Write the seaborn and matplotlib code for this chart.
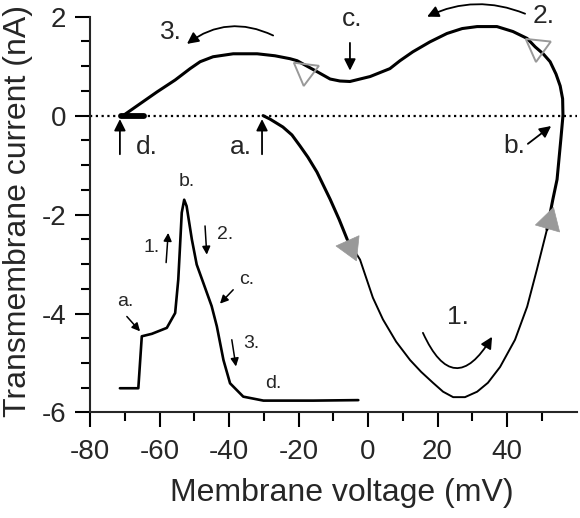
import numpy as np
import pandas as pd
import matplotlib
matplotlib.use("Agg")
import matplotlib.pyplot as plt
import seaborn as sns

# ---------------- data ----------------
# main I-V loop (membrane voltage mV, transmembrane current nA), in traversal order from a.
loop_v = [-30.2, -28.2, -24.5, -21.9, -19.6, -17.3, -14.7, -12.7, -10.9, -8.3, -6.0,
          -2.3, 1.4, 4.3, 8.1, 12.1, 15.3, 18.7, 21.6, 24.5, 27.9, 31.4, 34.5, 38.0,
          42.3, 45.8, 48.6, 51.5,
          53.2, 54.4, 55.5, 56.1, 56.0, 55.3, 54.1, 52.4, 50.4, 48.1, 45.8, 41.7,
          37.1, 31.4, 27.1, 22.7, 17.8, 12.9, 9.2, 6.3, 0.6, -5.2, -8.1, -10.9,
          -14.7, -20.4, -22.4, -26.8, -31.9, -38.8, -44.6, -48.3, -51.2, -55.5,
          -60.7, -65.6, -70.5]
loop_i = [0.0, -0.07, -0.23, -0.39, -0.61, -0.84, -1.14, -1.43, -1.69, -2.10, -2.50,
          -2.91, -3.68, -4.12, -4.57, -4.94, -5.18, -5.40, -5.58, -5.69, -5.69, -5.58,
          -5.40, -5.08, -4.53, -3.86, -3.11, -2.30,
          -1.69, -1.29, -0.47, 0.0, 0.34, 0.60, 0.84, 1.09, 1.25, 1.39, 1.56, 1.70,
          1.80, 1.80, 1.76, 1.66, 1.49, 1.29, 1.11, 0.95, 0.79, 0.69, 0.70, 0.74,
          0.89, 1.11, 1.15, 1.21, 1.25, 1.25, 1.19, 1.09, 0.95, 0.72, 0.48, 0.24, 0.0]
split_a, split_b = 10, 27          # thick / thin / thick parts of the trace

rest_v = [-71.2, -64.5]            # resting point d. (thick blob on zero line)
rest_i = [0.0, 0.0]

# inset: action potential trace drawn in the same axes
ap_v = [-71.4, -66.1, -65.1, -62.2, -57.9, -55.5, -54.6, -54.1, -53.6, -52.9, -52.2,
        -50.7, -49.3, -47.4, -45.0, -43.5, -41.6, -39.7, -35.9, -30.1, -15.7, -2.8]
ap_i = [-5.51, -5.51, -4.46, -4.41, -4.29, -3.99, -3.31, -2.64, -1.96, -1.70, -1.83,
        -2.50, -3.01, -3.38, -3.85, -4.26, -4.94, -5.41, -5.68, -5.76, -5.76, -5.75]

# direction triangles
filled_tri_v = [-5.2, 52.0]
filled_tri_i = [-2.65, -2.13]
filled_tri_rot = [-36, -16]
open_tri_v = [-18.0, 48.7]
open_tri_i = [0.91, 1.38]
open_tri_rot = [-67, -66]

x_ticks = [-80, -60, -40, -20, 0, 20, 40]
y_ticks = [-6, -4, -2, 0, 2]

# ---------------- style ----------------
sns.set_style("ticks")
plt.rcParams['font.family'] = ['Liberation Sans', 'DejaVu Sans']
plt.rcParams['axes.unicode_minus'] = False

fig = plt.figure(figsize=(5.8, 5.18), dpi=100)
ax = fig.add_axes([0.1552, 0.2037, 0.8388, 0.7641])

df_loop = pd.DataFrame({"v": loop_v, "i": loop_i, "n": range(len(loop_v))})
parts = [(df_loop.iloc[:split_a + 1], 2.2), (df_loop.iloc[split_a:split_b + 1], 1.4),
         (df_loop.iloc[split_b:], 2.2)]
for part, lw in parts:
    sns.lineplot(data=part, x="v", y="i", sort=False, estimator=None, color="black",
                 lw=lw, ax=ax, solid_joinstyle="round", solid_capstyle="round")

sns.lineplot(x=rest_v, y=rest_i, sort=False, estimator=None, color="black", lw=4.2,
             solid_capstyle="round", ax=ax)
sns.lineplot(x=ap_v, y=ap_i, sort=False, estimator=None, color="black", lw=1.9,
             solid_joinstyle="round", ax=ax)

ax.axhline(0, color="black", lw=1.6, ls=(0, (1, 1.6)), zorder=1)

grey = "#999999"
for v, i, r in zip(filled_tri_v, filled_tri_i, filled_tri_rot):
    ax.plot([v], [i], marker=(3, 0, r), ms=21, color=grey, mec=grey, mew=0.5,
            ls="none", zorder=5)
for v, i, r in zip(open_tri_v, open_tri_i, open_tri_rot):
    ax.plot([v], [i], marker=(3, 0, r), ms=21, mfc="none", mec=grey, mew=1.4,
            ls="none", zorder=5)

# ---------------- axes ----------------
ax.set_xlim(-80, 60)
ax.set_ylim(-6, 2)
ax.set_xticks(x_ticks)
ax.set_xticklabels([str(t) for t in x_ticks])
ax.set_xticks(np.arange(-70, 51, 20), minor=True)
ax.set_yticks(y_ticks)
ax.set_yticklabels([str(t) for t in y_ticks])
ax.set_yticks(np.arange(-5.5, 2, 0.5), minor=True)
sns.despine(ax=ax)
for s in ["left", "bottom"]:
    ax.spines[s].set_linewidth(1.5)
ax.tick_params(which="major", length=11, width=1.5, labelsize=20, color="black")
ax.tick_params(axis="x", which="major", pad=8)
ax.tick_params(axis="y", which="major", pad=6)
ax.tick_params(which="minor", length=6.5, width=1.5, color="black")
ax.set_xlabel("Membrane voltage (mV)", fontsize=23)
ax.set_ylabel("Transmembrane current (nA)", fontsize=23)
ax.xaxis.set_label_coords(0.518, -0.165)
ax.yaxis.set_label_coords(-0.117, 0.51)

# ---------------- annotations ----------------
big = 19
small = 14
main_arrow = dict(arrowstyle="-|>", color="black", lw=1.3, mutation_scale=17,
                  shrinkA=0, shrinkB=0)
small_arrow = dict(arrowstyle="-|>", color="black", lw=1.1, mutation_scale=12,
                   shrinkA=0, shrinkB=0)

for txt, (x, y) in {"3.": (-56.7, 1.70), "c.": (-4.6, 1.96), "2.": (50.4, 2.02),
                    "d.": (-63.6, -0.63), "a.": (-36.5, -0.63), "b.": (42.0, -0.62),
                    "1.": (25.9, -4.06)}.items():
    ax.text(x, y, txt, fontsize=big, ha="center", va="center", clip_on=False)

straight = [((-71.4, -0.78), (-71.4, -0.07)), ((-30.5, -0.78), (-30.5, -0.07)),
            ((-5.2, 1.47), (-5.2, 0.91)), ((46.0, -0.57), (52.7, -0.21))]
for s, e in straight:
    ax.annotate("", xy=e, xytext=s, arrowprops=main_arrow)

curved = [((-27.3, 1.62), (-52.1, 1.45), 0.3), ((45.2, 2.06), (17.0, 2.0), 0.22),
          ((15.8, -4.39), (35.7, -4.47), 0.95)]
for s, e, r in curved:
    ax.annotate("", xy=e, xytext=s, annotation_clip=False,
                arrowprops=dict(main_arrow, connectionstyle=f"arc3,rad={r}"))

for txt, (x, y) in {"b.": (-52.2, -1.34), "1.": (-62.2, -2.67), "2.": (-41.2, -2.40),
                    "c.": (-34.9, -3.31), "a.": (-69.9, -3.75), "3.": (-33.5, -4.60),
                    "d.": (-27.3, -5.41)}.items():
    ax.text(x, y, txt, fontsize=small, ha="center", va="center")

inset_arrows = [((-69.4, -4.06), (-65.6, -4.36)), ((-58.1, -2.97), (-57.5, -2.37)),
                ((-46.9, -2.23), (-46.4, -2.81)), ((-38.8, -3.52), (-42.6, -3.80)),
                ((-39.2, -4.53), (-38.0, -5.07))]
for s, e in inset_arrows:
    ax.annotate("", xy=e, xytext=s, arrowprops=small_arrow)

fig.savefig("out.png", dpi=100)
